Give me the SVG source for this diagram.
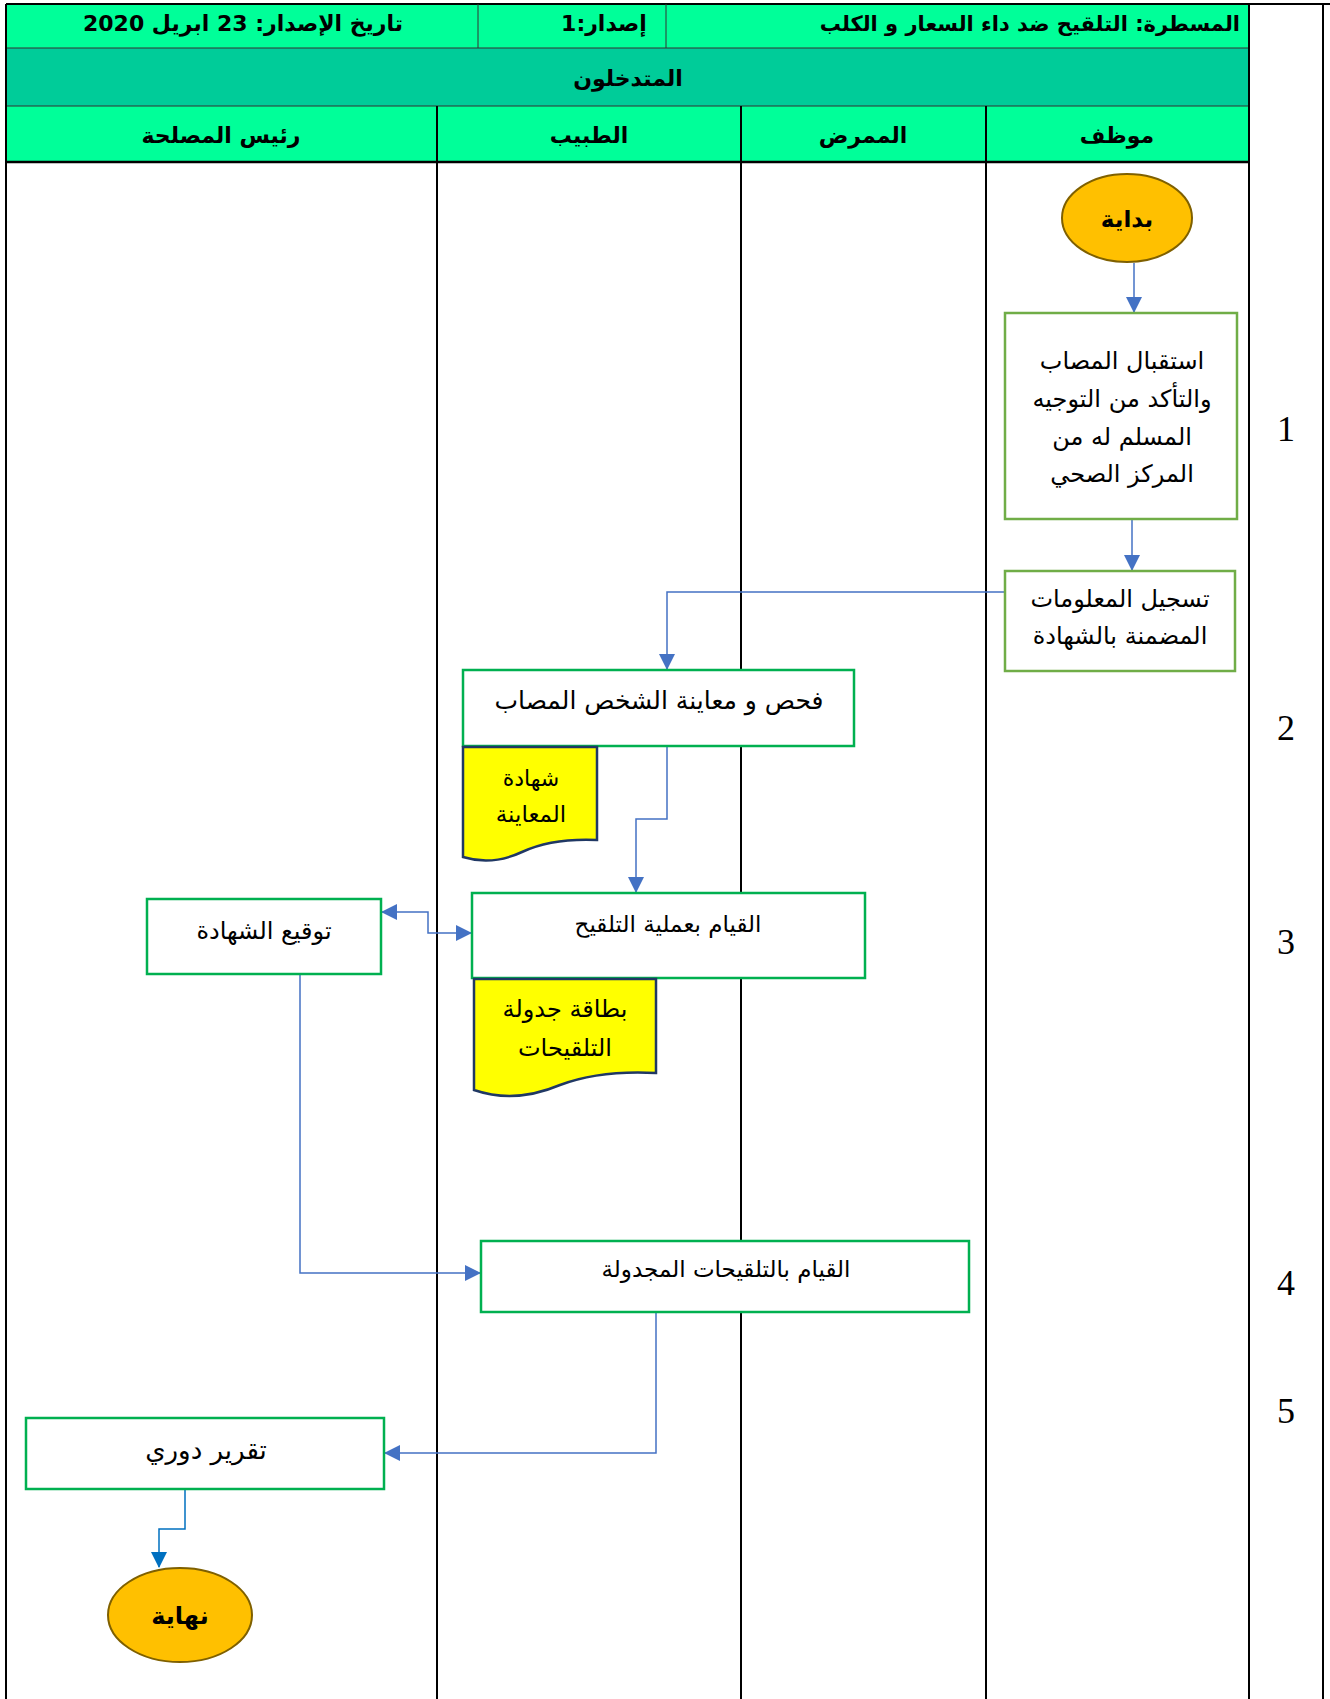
<svg xmlns="http://www.w3.org/2000/svg" width="1330" height="1699" viewBox="0 0 1330 1699">
<style>
.hdr{font-family:"DejaVu Sans","Liberation Sans",sans-serif;font-weight:bold;font-size:22px;fill:#000}
.txt{font-family:"DejaVu Sans","Liberation Sans",sans-serif;font-size:24px;fill:#000}
.num{font-family:"Liberation Serif",serif;font-size:36px;fill:#000}
.box{fill:#fff;stroke:#70AD47;stroke-width:2.5}
.box2{fill:#fff;stroke:#00B050;stroke-width:2.5}
.doc{fill:#FFFF00;stroke:#203864;stroke-width:2.5}
.term{fill:#FFC000;stroke:#7F6000;stroke-width:2}
.conn{fill:none;stroke:#4472C4;stroke-width:1.5}
.lane{stroke:#000;stroke-width:2}
</style>
<defs>
<marker id="arr" markerUnits="userSpaceOnUse" markerWidth="16" markerHeight="16" refX="15" refY="8" orient="auto-start-reverse" viewBox="0 0 16 16">
<path d="M0,0 L16,8 L0,16 Z" fill="#4472C4"/>
</marker>
<marker id="arr2" markerUnits="userSpaceOnUse" markerWidth="16" markerHeight="16" refX="15" refY="8" orient="auto" viewBox="0 0 16 16">
<path d="M0,0 L16,8 L0,16 Z" fill="#0070C0"/>
</marker>
</defs>
<rect width="1330" height="1699" fill="#fff"/>
<g id="table">
<rect x="6" y="4" width="1243" height="44" fill="#00FF99"/>
<rect x="6" y="48" width="1243" height="58" fill="#00CC99"/>
<rect x="6" y="106" width="1243" height="56" fill="#00FF99"/>
<line x1="6" y1="4" x2="1330" y2="4" stroke="#000" stroke-width="2"/>
<line x1="6" y1="48" x2="1249" y2="48" stroke="#333" stroke-width="1"/>
<line x1="6" y1="106" x2="1249" y2="106" stroke="#333" stroke-width="1"/>
<line x1="6" y1="162" x2="1249" y2="162" stroke="#000" stroke-width="2.5"/>
<line x1="478" y1="4" x2="478" y2="48" stroke="#333" stroke-width="1"/>
<line x1="666" y1="4" x2="666" y2="48" stroke="#333" stroke-width="1"/>
<line class="lane" x1="6" y1="4" x2="6" y2="1699"/>
<line class="lane" x1="437" y1="106" x2="437" y2="1699"/>
<line class="lane" x1="741" y1="106" x2="741" y2="1699"/>
<line class="lane" x1="986" y1="106" x2="986" y2="1699"/>
<line class="lane" x1="1249" y1="4" x2="1249" y2="1699"/>
<line class="lane" x1="1323" y1="4" x2="1323" y2="1699"/>
<text class="hdr" x="1240" y="31" direction="rtl" text-anchor="start" style="font-size:21px">المسطرة: التلقيح ضد داء السعار و الكلب</text>
<text class="hdr" x="604" y="31" direction="rtl" text-anchor="middle">إصدار:1</text>
<text class="hdr" x="243" y="31" direction="rtl" text-anchor="middle">تاريخ الإصدار: 23 ابريل 2020</text>
<text class="hdr" x="628" y="86" direction="rtl" text-anchor="middle">المتدخلون</text>
<text class="hdr" x="221" y="143" direction="rtl" text-anchor="middle">رئيس المصلحة</text>
<text class="hdr" x="589" y="143" direction="rtl" text-anchor="middle">الطبيب</text>
<text class="hdr" x="863" y="143" direction="rtl" text-anchor="middle">الممرض</text>
<text class="hdr" x="1117" y="143" direction="rtl" text-anchor="middle">موظف</text>
<text class="num" x="1286" y="441" text-anchor="middle">1</text>
<text class="num" x="1286" y="740" text-anchor="middle">2</text>
<text class="num" x="1286" y="954" text-anchor="middle">3</text>
<text class="num" x="1286" y="1295" text-anchor="middle">4</text>
<text class="num" x="1286" y="1423" text-anchor="middle">5</text>
</g>
<g id="connectors">
<path class="conn" d="M1134,263 V312" marker-end="url(#arr)"/>
<path class="conn" d="M1132,519 V570" marker-end="url(#arr)"/>
<path class="conn" d="M1005,592 H667 V669" marker-end="url(#arr)"/>
<path class="conn" d="M667,746 V819 H636 V892" marker-end="url(#arr)"/>
<path class="conn" d="M382,912 H428 V933 H471" marker-start="url(#arr)" marker-end="url(#arr)"/>
<path class="conn" d="M300,974 V1273 H480" marker-end="url(#arr)"/>
<path class="conn" d="M656,1312 V1453 H385" marker-end="url(#arr)"/>
<path d="M185,1489 V1529 H159 V1567" fill="none" stroke="#0070C0" stroke-width="1.5" marker-end="url(#arr2)"/>
</g>
<g id="start">
<ellipse class="term" cx="1127" cy="218" rx="65" ry="44"/>
<text class="hdr" x="1127" y="227" direction="rtl" text-anchor="middle" style="font-size:23px">بداية</text>
</g>
<g id="receive">
<rect class="box" x="1005" y="313" width="232" height="206"/>
<text class="txt" x="1122" y="369" direction="rtl" text-anchor="middle">استقبال المصاب</text>
<text class="txt" x="1122" y="407" direction="rtl" text-anchor="middle">والتأكد من التوجيه</text>
<text class="txt" x="1122" y="445" direction="rtl" text-anchor="middle">المسلم له من</text>
<text class="txt" x="1122" y="482" direction="rtl" text-anchor="middle">المركز الصحي</text>
</g>
<g id="register">
<rect class="box" x="1005" y="571" width="230" height="100"/>
<text class="txt" x="1120" y="607" direction="rtl" text-anchor="middle">تسجيل المعلومات</text>
<text class="txt" x="1120" y="644" direction="rtl" text-anchor="middle">المضمنة بالشهادة</text>
</g>
<g id="examine">
<rect class="box2" x="463" y="670" width="391" height="76"/>
<text class="txt" x="659" y="709" direction="rtl" text-anchor="middle" style="font-size:25px">فحص و معاينة الشخص المصاب</text>
</g>
<g id="doc-certificate">
<path class="doc" d="M463,747 H597 V840 Q552,838 522,852 Q492,866 463,857 Z"/>
<text class="txt" x="531" y="786" direction="rtl" text-anchor="middle" style="font-size:22px">شهادة</text>
<text class="txt" x="531" y="822" direction="rtl" text-anchor="middle" style="font-size:23px">المعاينة</text>
</g>
<g id="vaccinate">
<rect class="box2" x="472" y="893" width="393" height="85"/>
<text class="txt" x="668" y="932" direction="rtl" text-anchor="middle" style="font-size:23px">القيام بعملية التلقيح</text>
</g>
<g id="sign">
<rect class="box2" x="147" y="899" width="234" height="75"/>
<text class="txt" x="264" y="939" direction="rtl" text-anchor="middle">توقيع الشهادة</text>
</g>
<g id="doc-schedule">
<path class="doc" d="M474,979 H656 V1073 Q600,1070 560,1085 Q515,1104 474,1090 Z"/>
<text class="txt" x="565" y="1017" direction="rtl" text-anchor="middle">بطاقة جدولة</text>
<text class="txt" x="565" y="1056" direction="rtl" text-anchor="middle">التلقيحات</text>
</g>
<g id="scheduled">
<rect class="box2" x="481" y="1241" width="488" height="71"/>
<text class="txt" x="726" y="1277" direction="rtl" text-anchor="middle" style="font-size:23px">القيام بالتلقيحات المجدولة</text>
</g>
<g id="report">
<rect class="box2" x="26" y="1418" width="358" height="71"/>
<text class="txt" x="206" y="1459" direction="rtl" text-anchor="middle" style="font-size:26px">تقرير دوري</text>
</g>
<g id="end">
<ellipse class="term" cx="180" cy="1615" rx="72" ry="47"/>
<text class="hdr" x="180" y="1624" direction="rtl" text-anchor="middle" style="font-size:24px">نهاية</text>
</g>
</svg>
